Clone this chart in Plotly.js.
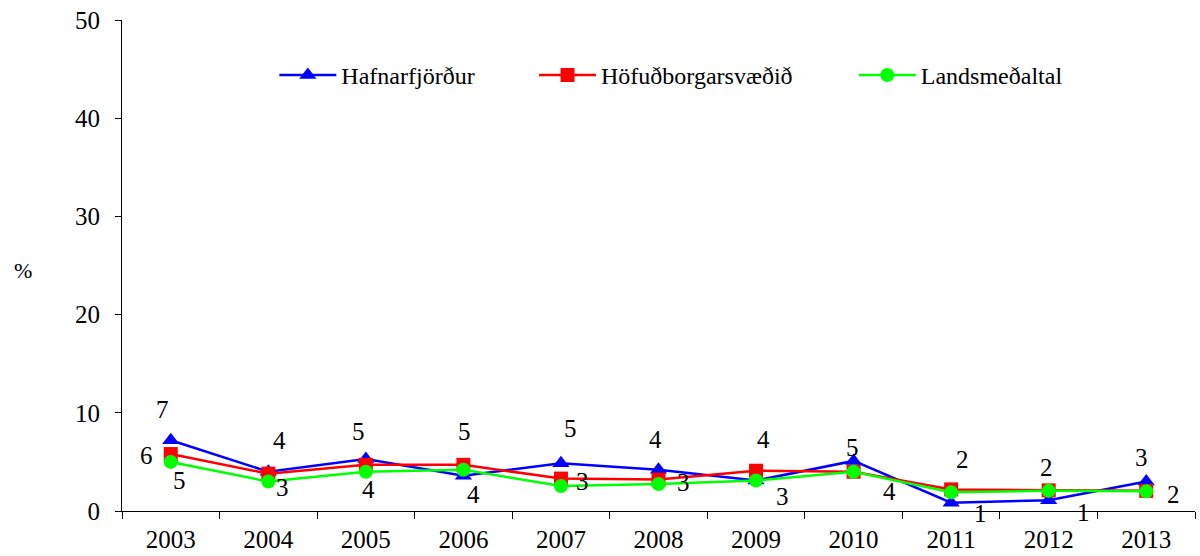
<!DOCTYPE html>
<html>
<head>
<meta charset="utf-8">
<script src="https://cdn.plot.ly/plotly-3.0.1.min.js"></script>
<style>
html,body{margin:0;padding:0;background:#fff;}
#chart{width:1200px;height:556px;}
</style>
</head>
<body>
<div id="chart"></div>
<script>
// ---- data ----
const years = ['2003','2004','2005','2006','2007','2008','2009','2010','2011','2012','2013'];
const hafnarfjordur = [7.2, 4.0, 5.3, 3.6, 4.85, 4.2, 3.1, 5.1, 0.85, 1.1, 3.0];
const hofudborgarsvaedid = [5.8, 3.8, 4.7, 4.7, 3.3, 3.2, 4.1, 4.0, 2.2, 2.1, 2.05];
const landsmedaltal = [5.0, 3.0, 4.0, 4.2, 2.55, 2.75, 3.1, 4.0, 1.9, 2.05, 2.0];
const seriesNames = ['Hafnarfjörður', 'Höfuðborgarsvæðið', 'Landsmeðaltal'];
// data label texts (as printed on the chart)
const upperLabels = ['7','4','5','5','5','4','4','5','2','2','3'];
const lowerLabels = ['5','3','4','4','3','3','3','4','1','1','2'];
const sideLabels  = ['6', null, null, null, null, null, null, null, null, null, null];
const yTicks = [0, 10, 20, 30, 40, 50];

// ---- label placement (pixel offsets, styling only) ----
const upperShiftX = [-8, 11, -7, 1, 10, -3, 7, -1, 11, -2, -5];
const upperShiftY = [31, 31, 27, 44, 35, 30, 41, 13, 43, 33, 24];
const lowerShiftX = [9, 14, 3, 10, 22, 25, 26, 36, 29, 35, 27];
const lowerShiftY = [-19, -6, -18, -25, 4, 2, -16, -20, -21, -22, -3];
const sideShiftX = -24, sideShiftY = -1;

const FONT = '"Liberation Serif", "Times New Roman", serif';
const colors = ['#0000FF', '#FF0000', '#00FF00'];
const symbols = ['triangle-up', 'square', 'circle'];
const values = [hafnarfjordur, hofudborgarsvaedid, landsmedaltal];
const legendIds = ['legend', 'legend2', 'legend3'];
const legendX = [0.142, 0.384, 0.682];

const traces = values.map((v, i) => ({
  type: 'scatter', mode: 'lines+markers',
  x: years, y: v, name: seriesNames[i], legend: legendIds[i],
  line: {color: colors[i], width: 2.5},
  marker: {color: colors[i], symbol: symbols[i], size: i === 0 ? 15 : 14, line: {width: 0}},
  hoverinfo: 'skip'
}));

const labelFont = {family: FONT, size: 25, color: '#000'};
const annotations = [];
years.forEach((yr, k) => {
  if (upperLabels[k] !== null) annotations.push({
    x: k, y: hafnarfjordur[k], xref: 'x', yref: 'y', text: upperLabels[k], showarrow: false,
    xshift: upperShiftX[k], yshift: upperShiftY[k], font: labelFont
  });
  if (lowerLabels[k] !== null) annotations.push({
    x: k, y: landsmedaltal[k], xref: 'x', yref: 'y', text: lowerLabels[k], showarrow: false,
    xshift: lowerShiftX[k], yshift: lowerShiftY[k], font: labelFont
  });
  if (sideLabels[k] !== null) annotations.push({
    x: k, y: hofudborgarsvaedid[k], xref: 'x', yref: 'y', text: sideLabels[k], showarrow: false,
    xshift: sideShiftX, yshift: sideShiftY, font: labelFont
  });
});
annotations.push({
  xref: 'paper', yref: 'paper', x: -0.092, y: 0.49, xanchor: 'center', yanchor: 'middle',
  text: '%', showarrow: false, font: {family: FONT, size: 22, color: '#000'}
});

const legendBase = {
  orientation: 'h', y: 0.933, xanchor: 'left', yanchor: 'top',
  font: {family: FONT, size: 24, color: '#000'},
  itemwidth: 57, bgcolor: 'rgba(0,0,0,0)'
};

const layout = {
  width: 1200, height: 556,
  margin: {l: 122, r: 5, t: 20, b: 45},
  paper_bgcolor: '#fff', plot_bgcolor: '#fff',
  font: {family: FONT, size: 25, color: '#000'},
  showlegend: true,
  legend: Object.assign({}, legendBase, {x: legendX[0]}),
  legend2: Object.assign({}, legendBase, {x: legendX[1]}),
  legend3: Object.assign({}, legendBase, {x: legendX[2]}),
  xaxis: {
    type: 'category', categoryorder: 'array', categoryarray: years,
    range: [-0.5, 10.5], showgrid: false, zeroline: false,
    showline: true, linecolor: '#000', linewidth: 1,
    ticks: 'outside', tickson: 'boundaries', ticklen: 7, tickcolor: '#000',
    ticklabelstandoff: 6,
    tickfont: {family: FONT, size: 25, color: '#000'}, fixedrange: true
  },
  yaxis: {
    range: [0, 50], tickvals: yTicks, ticktext: yTicks.map(String),
    showgrid: false, zeroline: false,
    showline: true, linecolor: '#000', linewidth: 1,
    ticks: 'outside', ticklen: 6, tickcolor: '#000',
    ticklabelstandoff: 10,
    tickfont: {family: FONT, size: 25, color: '#000'}, fixedrange: true
  },
  annotations: annotations
};

Plotly.newPlot('chart', traces, layout, {displayModeBar: false, staticPlot: true});
</script>
</body>
</html>
